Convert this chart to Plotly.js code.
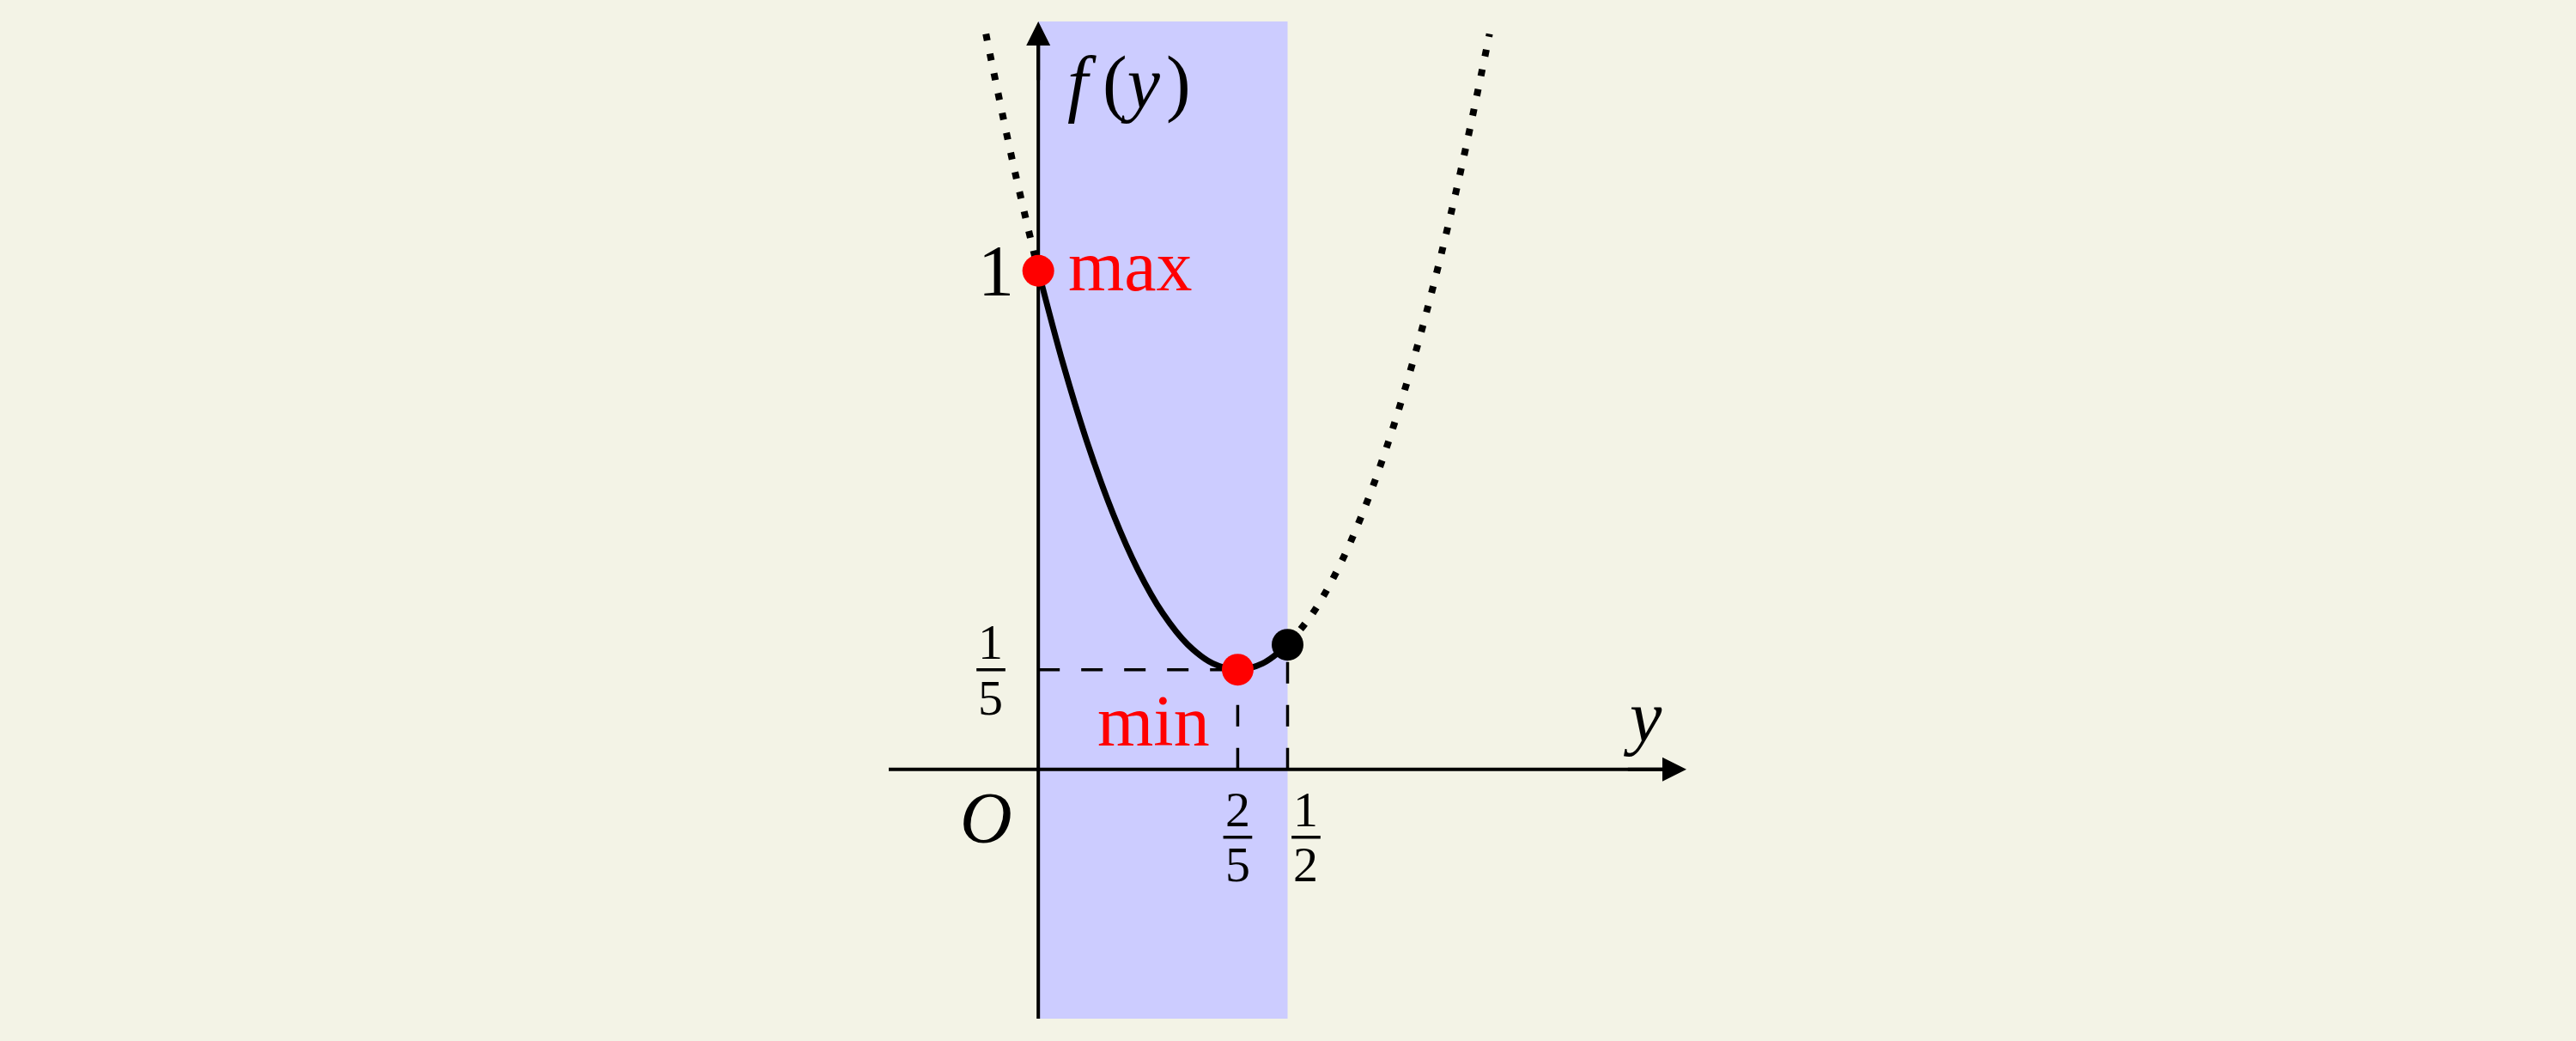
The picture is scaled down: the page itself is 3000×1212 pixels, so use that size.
<!DOCTYPE html>
<html>
<head>
<meta charset="utf-8">
<script src="https://cdn.plot.ly/plotly-3.0.1.min.js"></script>
<style>html,body{margin:0;padding:0;background:#f3f3e6;}#chart{width:3000px;height:1212px;}</style>
</head>
<body>
<div id="chart"></div>
<script>
// Curve values
const leftDotX = [-0.105, -0.1, -0.05, 0];
const leftDotY = [1.475, 1.45, 1.2125, 1];
const solidX = [0, 0.05, 0.1, 0.15, 0.2, 0.25, 0.3, 0.35, 0.4, 0.45, 0.5];
const solidY = [1, 0.8125, 0.65, 0.5125, 0.4, 0.3125, 0.25, 0.2125, 0.2, 0.2125, 0.25];
const rightDotX = [0.5, 0.55, 0.6, 0.65, 0.7, 0.75, 0.8, 0.85, 0.9, 0.905];
const rightDotY = [0.25, 0.3125, 0.4, 0.5125, 0.65, 0.8125, 1.0, 1.2125, 1.45, 1.475];
// Marked points
const extremaX = [0, 0.4];
const extremaY = [1, 0.2];
const endX = [0.5];
const endY = [0.25];
// Interval and ranges
const bandX = [0, 0.5];
const xRange = [-0.3, 1.3];
const yRange = [-0.5, 1.5];
// Labels
const xTickVals = [0.4, 0.5];
const xTickNum = ['2', '1'];
const xTickDen = ['5', '2'];
const yTickVal = 0.2;
const yTickNum = '1';
const yTickDen = '5';

const serif = 'Liberation Serif, Times New Roman, serif';
const big = 84, small = 58;

const traces = [
  {x: leftDotX, y: leftDotY, mode: 'lines', line: {color: '#000', width: 8, dash: '8px,15.5px', shape: 'spline'}, hoverinfo: 'skip'},
  {x: rightDotX, y: rightDotY, mode: 'lines', line: {color: '#000', width: 8, dash: '8px,15.5px', shape: 'spline'}, hoverinfo: 'skip'},
  {x: solidX, y: solidY, mode: 'lines', line: {color: '#000', width: 7, shape: 'spline'}, hoverinfo: 'skip'},
  {x: endX, y: endY, mode: 'markers', marker: {color: '#000', size: 37}, cliponaxis: false},
  {x: extremaX, y: extremaY, mode: 'markers', marker: {color: '#ff0000', size: 37}, cliponaxis: false}
];

const shapes = [
  {type: 'rect', xref: 'x', yref: 'y', x0: bandX[0], x1: bandX[1], y0: yRange[0], y1: yRange[1], fillcolor: '#ccccff', line: {width: 0}, layer: 'below'},
  {type: 'line', xref: 'x', yref: 'y', x0: xRange[0], x1: xRange[1] - 0.03, y0: 0, y1: 0, line: {color: '#000', width: 4}, layer: 'below'},
  {type: 'line', xref: 'x', yref: 'y', x0: 0, x1: 0, y0: yRange[0], y1: yRange[1] - 0.03, line: {color: '#000', width: 4}, layer: 'below'},
  {type: 'line', xref: 'x', yref: 'y', x0: 0, x1: extremaX[1], y0: yTickVal, y1: yTickVal, line: {color: '#000', width: 3.5, dash: '25px,25px'}, layer: 'below'},
  {type: 'line', xref: 'x', yref: 'y', x0: extremaX[1], x1: extremaX[1], y0: 0, y1: extremaY[1], line: {color: '#000', width: 3.5, dash: '25px,25px'}, layer: 'below'},
  {type: 'line', xref: 'x', yref: 'y', x0: endX[0], x1: endX[0], y0: 0, y1: endY[0], line: {color: '#000', width: 3.5, dash: '25px,25px'}, layer: 'below'},
  // fraction bars
  {type: 'line', xref: 'x', yref: 'y', x0: -0.124, x1: -0.066, y0: yTickVal, y1: yTickVal, line: {color: '#000', width: 3.5}},
  {type: 'line', xref: 'x', yref: 'y', x0: xTickVals[0] - 0.029, x1: xTickVals[0] + 0.029, y0: -0.136, y1: -0.136, line: {color: '#000', width: 3.5}},
  {type: 'line', xref: 'x', yref: 'y', x0: 0.537 - 0.029, x1: 0.537 + 0.029, y0: -0.136, y1: -0.136, line: {color: '#000', width: 3.5}}
];

const txt = (x, y, text, size, color, extra) => Object.assign({
  x: x, y: y, xref: 'x', yref: 'y', text: text, showarrow: false,
  font: {family: serif, size: size, color: color || '#000'}, xanchor: 'center', yanchor: 'middle'
}, extra || {});

const arrowOpts = {text: '', showarrow: true, arrowhead: 2, arrowsize: 1.4, arrowwidth: 4, arrowcolor: '#000', standoff: 0, axref: 'x', ayref: 'y', xref: 'x', yref: 'y'};

const annotations = [
  // axis arrowheads
  Object.assign({x: xRange[1], y: 0, ax: xRange[1] - 0.12, ay: 0}, arrowOpts),
  Object.assign({x: 0, y: yRange[1], ax: 0, ay: yRange[1] - 0.12}, arrowOpts),
  txt(0.183, 1.377, '<i>f</i>\u2009(<i>y</i>\u200A)', 86),
  txt(-0.084, 1, '1', big),
  txt(0.057, 1, 'max', big, '#ff0000', {xanchor: 'left', yshift: 6}),
  txt(0.231, 0.086, 'min', big, '#ff0000', {yshift: 6}),
  txt(1.213, 0.106, '<i>y</i>', big),
  txt(-0.105, -0.098, '<i>O</i>', big),
  txt(-0.096, 0.255, yTickNum, small),
  txt(-0.096, 0.143, yTickDen, small),
  txt(xTickVals[0], -0.081, xTickNum[0], small),
  txt(xTickVals[0], -0.191, xTickDen[0], small),
  txt(0.537, -0.081, xTickNum[1], small),
  txt(0.537, -0.191, xTickDen[1], small)
];

const axisOff = {showgrid: false, zeroline: false, showticklabels: false, ticks: '', showline: false, fixedrange: true};

const layout = {
  width: 3000, height: 1212,
  paper_bgcolor: '#f3f3e6', plot_bgcolor: 'rgba(0,0,0,0)',
  margin: {l: 1034.7, r: 1035.7, t: 24.5, b: 25.5, pad: 0},
  showlegend: false,
  xaxis: Object.assign({}, axisOff, {range: xRange}),
  yaxis: Object.assign({}, axisOff, {range: yRange}),
  shapes: shapes,
  annotations: annotations
};

Plotly.newPlot('chart', traces, layout, {displayModeBar: false, staticPlot: true});
</script>
</body>
</html>
